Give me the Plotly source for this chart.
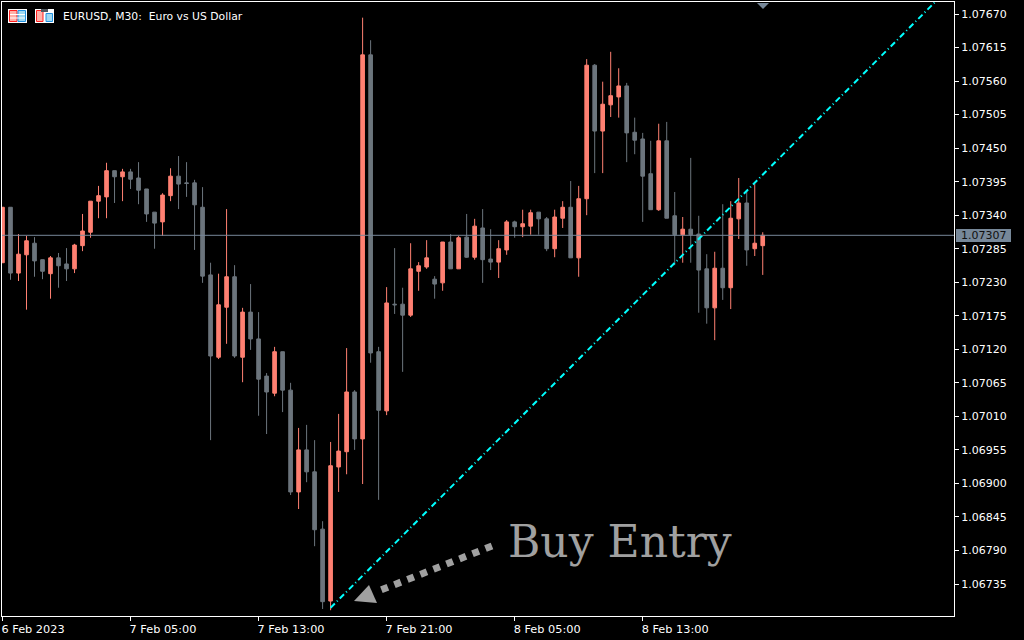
import plotly.graph_objects as go

PLOT_L, PLOT_R, PLOT_T, PLOT_B = 2, 954, 2, 616

# M30 bars, prices
opens = [1.07262, 1.07353, 1.07245, 1.07275, 1.07294, 1.07267, 1.07244, 1.07270, 1.07260, 1.07252,
         1.07290, 1.07312, 1.07363, 1.07370, 1.07413, 1.07403, 1.07411, 1.07401, 1.07383, 1.07345,
         1.07329, 1.07372, 1.07404, 1.07393, 1.07393, 1.07353, 1.07242, 1.07107, 1.07189, 1.07239,
         1.07107, 1.07181, 1.07137, 1.07076, 1.07048, 1.07116, 1.07053, 1.06886, 1.06955, 1.06919,
         1.06825, 1.06707, 1.06927, 1.06952, 1.07050, 1.06973, 1.07603, 1.07116, 1.07019, 1.07194,
         1.07194, 1.07176, 1.07248, 1.07255, 1.07235, 1.07229, 1.07296, 1.07252, 1.07304, 1.07271,
         1.07319, 1.07268, 1.07263, 1.07283, 1.07329, 1.07321, 1.07322, 1.07345, 1.07334, 1.07285,
         1.07335, 1.07353, 1.07270, 1.07367, 1.07586, 1.07478, 1.07521, 1.07534, 1.07552, 1.07476,
         1.07465, 1.07408, 1.07349, 1.07462, 1.07339, 1.07308, 1.07317, 1.07309, 1.07252, 1.07188,
         1.07253, 1.07221, 1.07334, 1.07360, 1.07285, 1.07290]
highs = [1.07353, 1.07353, 1.07309, 1.07306, 1.07304, 1.07267, 1.07273, 1.07278, 1.07286, 1.07293,
         1.07342, 1.07363, 1.07388, 1.07426, 1.07413, 1.07416, 1.07416, 1.07427, 1.07383, 1.07345,
         1.07376, 1.07417, 1.07437, 1.07427, 1.07398, 1.07386, 1.07262, 1.07244, 1.07350, 1.07258,
         1.07188, 1.07227, 1.07181, 1.07081, 1.07124, 1.07116, 1.07065, 1.06991, 1.06996, 1.06971,
         1.06838, 1.06968, 1.07014, 1.07122, 1.07053, 1.07664, 1.07627, 1.07124, 1.07222, 1.07286,
         1.07221, 1.07294, 1.07263, 1.07299, 1.07240, 1.07296, 1.07309, 1.07306, 1.07342, 1.07334,
         1.07350, 1.07317, 1.07299, 1.07332, 1.07331, 1.07349, 1.07349, 1.07345, 1.07337, 1.07349,
         1.07363, 1.07396, 1.07388, 1.07596, 1.07588, 1.07559, 1.07608, 1.07581, 1.07557, 1.07500,
         1.07475, 1.07462, 1.07490, 1.07493, 1.07378, 1.07337, 1.07434, 1.07339, 1.07276, 1.07280,
         1.07358, 1.07363, 1.07401, 1.07381, 1.07391, 1.07312]
lows = [1.07262, 1.07234, 1.07232, 1.07185, 1.07239, 1.07235, 1.07203, 1.07221, 1.07232, 1.07245,
        1.07281, 1.07303, 1.07335, 1.07335, 1.07360, 1.07363, 1.07383, 1.07358, 1.07329, 1.07285,
        1.07306, 1.07363, 1.07350, 1.07370, 1.07283, 1.07229, 1.06971, 1.07104, 1.07129, 1.07106,
        1.07066, 1.07119, 1.07011, 1.06981, 1.07043, 1.07017, 1.06881, 1.06858, 1.06902, 1.06797,
        1.06694, 1.06692, 1.06886, 1.06915, 1.06955, 1.06899, 1.07098, 1.06873, 1.07012, 1.07178,
        1.07083, 1.07173, 1.07216, 1.07252, 1.07203, 1.07216, 1.07252, 1.07252, 1.07270, 1.07267,
        1.07229, 1.07250, 1.07237, 1.07275, 1.07303, 1.07304, 1.07308, 1.07308, 1.07281, 1.07271,
        1.07319, 1.07270, 1.07239, 1.07340, 1.07409, 1.07409, 1.07501, 1.07500, 1.07427, 1.07440,
        1.07329, 1.07349, 1.07347, 1.07335, 1.07258, 1.07262, 1.07262, 1.07180, 1.07162, 1.07135,
        1.07201, 1.07186, 1.07301, 1.07257, 1.07273, 1.07242]
closes = [1.07353, 1.07245, 1.07276, 1.07298, 1.07265, 1.07248, 1.07270, 1.07257, 1.07252, 1.07291,
          1.07314, 1.07363, 1.07372, 1.07413, 1.07403, 1.07411, 1.07399, 1.07381, 1.07342, 1.07327,
          1.07373, 1.07404, 1.07391, 1.07392, 1.07357, 1.07240, 1.07109, 1.07193, 1.07239, 1.07109,
          1.07181, 1.07137, 1.07071, 1.07050, 1.07116, 1.07053, 1.06886, 1.06955, 1.06919, 1.06824,
          1.06706, 1.06929, 1.06953, 1.07050, 1.06973, 1.07603, 1.07114, 1.07020, 1.07196, 1.07193,
          1.07176, 1.07252, 1.07257, 1.07270, 1.07227, 1.07296, 1.07252, 1.07303, 1.07271, 1.07322,
          1.07267, 1.07263, 1.07285, 1.07329, 1.07321, 1.07326, 1.07344, 1.07334, 1.07285, 1.07337,
          1.07353, 1.07270, 1.07367, 1.07586, 1.07478, 1.07522, 1.07536, 1.07552, 1.07475, 1.07463,
          1.07404, 1.07349, 1.07462, 1.07335, 1.07308, 1.07317, 1.07308, 1.07250, 1.07188, 1.07253,
          1.07221, 1.07335, 1.07360, 1.07283, 1.07294, 1.07307]
bars = list(range(len(closes)))

time_tick_bars = [0, 16, 32, 48, 64, 80]
time_tick_labels = ["6 Feb 2023", "7 Feb 05:00", "7 Feb 13:00", "7 Feb 21:00", "8 Feb 05:00", "8 Feb 13:00"]
price_ticks = [1.06735, 1.06790, 1.06845, 1.06900, 1.06955, 1.07010, 1.07065, 1.07120, 1.07175,
               1.07230, 1.07285, 1.07340, 1.07395, 1.07450, 1.07505, 1.07560, 1.07615, 1.07670]
last_price = 1.07307
trend_bars = [41, 116.56]
trend_prices = [1.06696, 1.07690]

UP = "#ff8072"
DOWN = "#6c757d"
SLATE = "#778899"
ARROW = "#a0a0a0"
ICON_RED = "#ff2020"
ICON_BLUE = "#2090e0"
ICON_PINK = "#ffb0a8"
ICON_SKY = "#a0d8f0"
AXIS_FONT = dict(family="DejaVu Sans", size=11, color="white")


def px(x):
    return (x - PLOT_L) / (PLOT_R - PLOT_L)


def py(y):
    return (PLOT_B - y) / (PLOT_B - PLOT_T)


def box(x0, y0, x1, y1, fill, line=None):
    return dict(type="rect", xref="paper", yref="paper", layer="above",
                x0=px(x0), x1=px(x1), y0=py(y0), y1=py(y1), fillcolor=fill,
                line=dict(color=line or fill, width=1 if line else 0))


def poly(points, fill):
    path = "M " + " L ".join(f"{px(x)} {py(y)}" for x, y in points) + " Z"
    return dict(type="path", xref="paper", yref="paper", layer="above", path=path,
                fillcolor=fill, line=dict(width=0))


fig = go.Figure()
fig.add_trace(go.Candlestick(
    x=bars, open=opens, high=highs, low=lows, close=closes,
    increasing=dict(line=dict(color=UP, width=1), fillcolor=UP),
    decreasing=dict(line=dict(color=DOWN, width=1), fillcolor=DOWN),
    whiskerwidth=0, showlegend=False))
fig.add_trace(go.Scatter(
    x=trend_bars, y=trend_prices, mode="lines", hoverinfo="skip", showlegend=False,
    line=dict(color="#00ffff", width=2, dash="6px,3px,1px,3px")))

shapes = [
    dict(type="line", xref="paper", yref="y", x0=0, x1=1, y0=last_price, y1=last_price,
         line=dict(color=SLATE, width=1)),
    # last price tag in the axis gutter
    box(956, 229, 1011, 242, SLATE),
    # arrow pointing at the start of the trend line
    dict(type="line", xref="paper", yref="paper", layer="above",
         x0=px(492), y0=py(546), x1=px(376), y1=py(592),
         line=dict(color=ARROW, width=7, dash="7px,7px")),
    poly([(354, 601), (369, 585), (377, 603)], ARROW),
    # marker on the top edge
    poly([(757, 3), (769, 3), (763, 9)], SLATE),
    # toolbar icons
    box(8, 9, 27, 23, "white"),
    box(9.5, 10.5, 17, 21.5, ICON_PINK, ICON_RED),
    box(18, 10.5, 25.5, 21.5, ICON_SKY, ICON_BLUE),
    box(10, 14, 25, 15, "white"),
    box(10, 17.5, 25, 18.5, "white"),
    box(35, 9, 54, 23, "white"),
    box(36.5, 10.5, 43, 21.5, ICON_PINK, ICON_RED),
    box(46, 13.5, 52.5, 21.5, ICON_SKY, ICON_BLUE),
    box(41, 9, 48, 12, "#505860"),
]

annotations = [
    dict(xref="paper", yref="paper", x=px(61), y=py(16), xanchor="left", yanchor="middle",
         text="EURUSD, M30:  Euro vs US Dollar", showarrow=False,
         font=dict(family="DejaVu Sans", size=10.8, color="white")),
    dict(xref="paper", yref="paper", x=px(960), y=py(235.5), xanchor="left", yanchor="middle",
         text=f"{last_price:.5f}", showarrow=False, borderpad=0,
         font=dict(family="DejaVu Sans", size=11, color="#101010")),
    dict(xref="paper", yref="paper", x=px(506), y=py(541), xanchor="left", yanchor="middle",
         text="Buy Entry", showarrow=False,
         font=dict(family="DejaVu Serif", size=44, color=ARROW)),
]

fig.update_layout(
    width=1024, height=640, autosize=False,
    margin=dict(l=PLOT_L, r=1024 - PLOT_R, t=PLOT_T, b=640 - PLOT_B),
    paper_bgcolor="black", plot_bgcolor="black",
    boxgap=0.35, showlegend=False, shapes=shapes, annotations=annotations,
    xaxis=dict(
        range=[-0.0625, 118.9], rangeslider=dict(visible=False),
        tickvals=time_tick_bars, ticktext=time_tick_labels,
        ticklabelposition="outside right", ticklabelshift=-2, ticklabelstandoff=2,
        ticks="outside", ticklen=4, tickcolor="white",
        tickfont=dict(family="DejaVu Sans", size=11.3, color="white"),
        showgrid=False, zeroline=False, showline=True,
        linecolor="white", linewidth=1, mirror=True),
    yaxis=dict(
        range=[1.066825, 1.076897], side="right", tickvals=price_ticks, tickformat=".5f",
        ticks="outside", ticklen=4, tickcolor="white", tickfont=AXIS_FONT,
        showgrid=False, zeroline=False, showline=True, linecolor="white", linewidth=1,
        mirror=True),
)

# plotly's page has the browser's default body margin, which would push the plot 8px in
fig.write_html("out.html", config=dict(displayModeBar=False),
               post_script="document.body.style.margin = '0';")
